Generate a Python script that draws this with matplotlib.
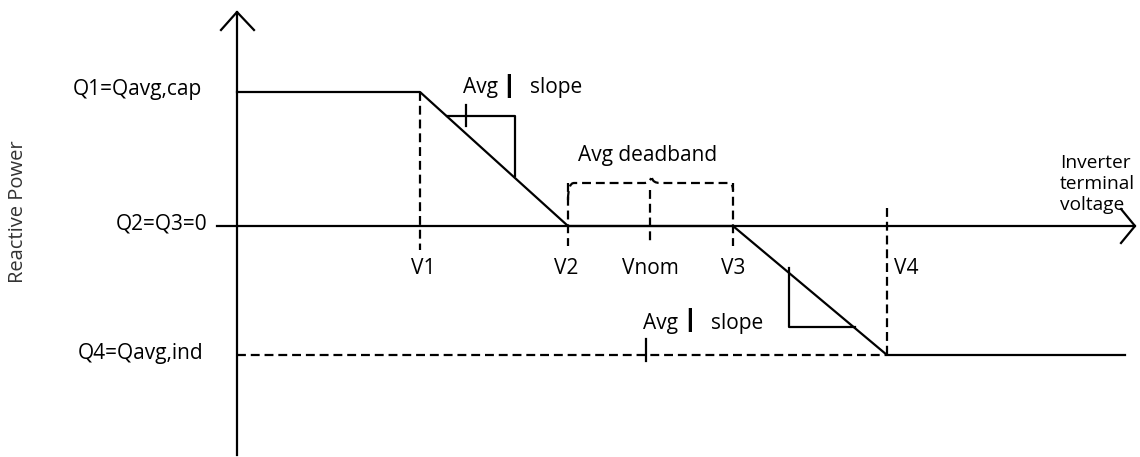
import matplotlib
matplotlib.use("Agg")
import matplotlib.pyplot as plt
from matplotlib.path import Path
from matplotlib.patches import PathPatch

plt.rcParams['font.family'] = ['Open Sans', 'DejaVu Sans']

# Diagram data (in drawing units)
v_labels = ["V1", "V2", "Vnom", "V3", "V4"]
v_pos = [420, 568, 650, 733, 887]
q_labels = ["Q1=Qavg,cap", "Q2=Q3=0", "Q4=Qavg,ind"]
q_levels = [92, 226, 355]
x_axis_label = "Inverter\nterminal\nvoltage"
y_axis_label = "Reactive Power"

fig = plt.figure(figsize=(11.4, 4.57), dpi=100)
ax = fig.add_axes([0, 0, 1, 1])
ax.set_xlim(0, 1140)
ax.set_ylim(457, 0)
ax.axis('off')

lw = 1.6
k = 'black'
dash = dict(color=k, lw=lw, linestyle=(0, (4, 2.2)))
ORIG_X = 237
END_X = 1135
TOP_Y = 12
BOT_Y = 455

q1, q0, q4 = q_levels
v1, v2, vn, v3, v4 = v_pos

# axes
ax.plot([ORIG_X, ORIG_X], [BOT_Y, TOP_Y], color=k, lw=lw)
ax.plot([ORIG_X - 16, ORIG_X, ORIG_X + 17], [30, TOP_Y, 30], color=k, lw=lw)
ax.plot([217, END_X], [q0, q0], color=k, lw=lw)
ax.plot([END_X - 14, END_X, END_X - 14], [q0 - 17, q0, q0 + 17], color=k, lw=lw)

# characteristic curve
ax.plot([ORIG_X, v1, v2, v3, v4, 1125], [q1, q1, q0, q0, q4, q4], color=k, lw=lw)
ax.plot([ORIG_X, v4], [q4, q4], **dash)

# vertical dashed lines
ax.plot([v1, v1], [q1, 250], **dash)
ax.plot([v2, v2], [183, 246], **dash)
ax.plot([vn, vn], [190, 243], **dash)
ax.plot([v3, v3], [183, 246], **dash)
ax.plot([v4, v4], [208, q4], **dash)

# deadband brace
verts = [(v2, 200), (v2, 183), (v2 + 6, 183), (644, 183), (650, 183), (651, 178),
         (652, 178), (653, 183), (660, 183), (728, 183), (v3, 183), (v3, 190)]
codes = [Path.MOVETO, Path.CURVE3, Path.CURVE3, Path.LINETO, Path.CURVE3, Path.CURVE3,
         Path.MOVETO, Path.CURVE3, Path.CURVE3, Path.LINETO, Path.CURVE3, Path.CURVE3]
ax.add_patch(PathPatch(Path(verts, codes), fill=False, edgecolor=k, lw=lw,
                       linestyle=(0, (4, 2.2))))

# slope triangles
ax.plot([447, 515, 515], [116, 116, 176], color=k, lw=lw)
ax.plot([466, 466], [105, 126], color=k, lw=lw)
ax.plot([789, 789, 855], [268, 327, 327], color=k, lw=lw)
ax.plot([646, 646], [339, 361], color=k, lw=lw)

fs = 15
# slope annotations
ax.text(463, 88, "Avg", fontsize=fs, ha='left', va='center')
ax.text(509, 87, "|", fontsize=fs + 3, ha='center', va='center', fontweight='heavy')
ax.text(530, 88, "slope", fontsize=fs, ha='left', va='center')
ax.text(643, 323, "Avg", fontsize=fs, ha='left', va='center')
ax.text(690, 321, "|", fontsize=fs + 3, ha='center', va='center', fontweight='heavy')
ax.text(711, 323, "slope", fontsize=fs, ha='left', va='center')
ax.text(648, 156, "Avg deadband", fontsize=fs, ha='center', va='center')

# V labels
v_label_x = [423, 566, 650, 733, 906]
for lab, x in zip(v_labels, v_label_x):
    ax.text(x, 268, lab, fontsize=fs, ha='center', va='center')

# Q labels
q_label_x = [202, 207, 203]
for lab, y, x in zip(q_labels, q_levels, q_label_x):
    ax.text(x, y - 2, lab, fontsize=fs, ha='right', va='center')

ax.text(1060, 184, x_axis_label, fontsize=13.8, ha='left', va='center', linespacing=1.25)
ax.text(18, 212, y_axis_label, fontsize=14.5, ha='center', va='center', rotation=90,
        color='#333333')

fig.savefig("out.png", dpi=100)
